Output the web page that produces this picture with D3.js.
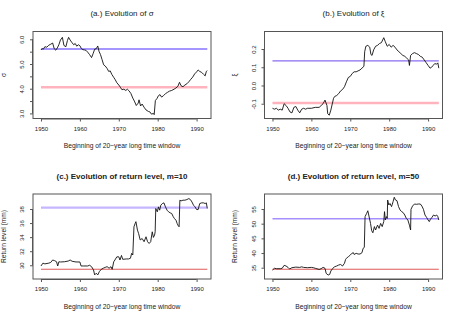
<!DOCTYPE html>
<html><head><meta charset="utf-8">
<script src="https://cdn.jsdelivr.net/npm/d3@7"></script>
<style>body{margin:0;background:#fff}svg{display:block;font-family:"Liberation Sans",Arial,sans-serif}</style>
</head><body><svg id="c" width="463" height="321"></svg>
<script>
const xTicks = [1950,1960,1970,1980,1990];
const sigmaTicks = [3.0,3.5,4.0,4.5,5.0,5.5,6.0];
const sigmaTickLabels = ["3.0","","4.0","","5.0","","6.0"];
const xiTicks = [-0.1,0.0,0.1,0.2];
const xiTickLabels = ["-0.1","0.0","0.1","0.2"];
const rl10Ticks = [30,32,34,36,38];
const rl50Ticks = [35,40,45,50,55];

const sigmaSeries = [[1950.0,5.57],[1950.3,5.62],[1950.6,5.60],[1951.0,5.70],[1951.5,5.68],[1952.0,5.76],[1952.5,5.80],[1953.0,5.85],[1953.4,5.62],[1953.8,5.56],[1954.2,5.65],[1954.6,5.78],[1955.0,5.97],[1955.5,6.08],[1955.9,5.75],[1956.4,5.70],[1956.8,5.95],[1957.1,6.08],[1957.5,5.97],[1958.0,5.86],[1958.4,5.78],[1958.8,5.83],[1959.2,5.72],[1959.6,5.78],[1960.0,5.74],[1960.4,5.62],[1960.8,5.58],[1961.2,5.57],[1961.6,5.55],[1962.0,5.48],[1962.5,5.38],[1963.0,5.26],[1963.4,5.42],[1963.8,5.60],[1964.2,5.62],[1964.6,5.73],[1964.9,5.52],[1965.3,5.38],[1965.7,5.18],[1966.1,4.97],[1966.5,4.92],[1967.0,4.82],[1967.4,4.70],[1967.8,4.72],[1968.2,4.58],[1968.7,4.46],[1969.1,4.36],[1969.5,4.24],[1970.0,4.15],[1970.4,4.06],[1970.8,3.96],[1971.3,3.98],[1971.8,3.93],[1972.2,3.98],[1972.6,3.92],[1973.1,3.81],[1973.6,3.62],[1974.0,3.50],[1974.5,3.32],[1975.0,3.42],[1975.2,3.55],[1975.6,3.30],[1976.0,3.38],[1976.5,3.25],[1977.0,3.14],[1977.6,3.08],[1978.0,3.06],[1978.4,2.97],[1978.9,3.00],[1979.1,2.95],[1979.4,3.52],[1979.8,3.60],[1980.2,3.72],[1980.6,3.76],[1981.0,3.66],[1981.5,3.72],[1982.0,3.80],[1982.5,3.85],[1983.0,3.90],[1983.6,3.93],[1984.2,3.98],[1984.7,4.03],[1985.2,4.10],[1985.6,4.26],[1986.0,4.12],[1986.5,4.08],[1987.0,4.15],[1987.5,4.20],[1988.0,4.28],[1988.5,4.38],[1989.0,4.47],[1989.5,4.60],[1990.0,4.68],[1990.4,4.76],[1990.8,4.70],[1991.3,4.66],[1991.8,4.58],[1992.2,4.52],[1992.5,4.70],[1992.75,4.73]];

const xiSeries = [[1950.0,-0.125],[1950.5,-0.13],[1951.0,-0.125],[1951.5,-0.135],[1952.0,-0.13],[1952.5,-0.135],[1953.0,-0.10],[1953.5,-0.11],[1954.0,-0.125],[1954.5,-0.145],[1955.0,-0.15],[1955.5,-0.12],[1956.0,-0.115],[1956.5,-0.135],[1957.0,-0.15],[1957.5,-0.13],[1958.0,-0.125],[1958.5,-0.13],[1959.0,-0.125],[1960.0,-0.125],[1961.0,-0.12],[1962.0,-0.12],[1962.5,-0.11],[1963.0,-0.10],[1963.5,-0.08],[1964.0,-0.11],[1964.2,-0.155],[1964.6,-0.163],[1965.0,-0.135],[1965.3,-0.107],[1965.7,-0.07],[1966.0,-0.06],[1966.5,-0.055],[1967.0,-0.045],[1967.5,-0.03],[1968.0,-0.022],[1968.5,-0.007],[1969.0,0.02],[1969.5,0.044],[1970.0,0.05],[1970.5,0.066],[1971.0,0.075],[1971.5,0.075],[1972.0,0.08],[1972.5,0.085],[1973.0,0.095],[1973.5,0.105],[1973.7,0.185],[1974.0,0.215],[1974.5,0.22],[1975.0,0.21],[1975.3,0.17],[1975.6,0.165],[1976.0,0.195],[1976.5,0.215],[1977.0,0.22],[1977.5,0.23],[1978.0,0.235],[1978.6,0.262],[1979.0,0.24],[1979.5,0.215],[1980.0,0.225],[1980.5,0.21],[1981.0,0.22],[1981.5,0.21],[1982.0,0.195],[1982.5,0.185],[1983.0,0.175],[1983.5,0.165],[1984.0,0.16],[1984.5,0.15],[1985.0,0.14],[1985.2,0.11],[1985.5,0.165],[1986.0,0.175],[1986.5,0.18],[1987.0,0.175],[1987.5,0.17],[1988.0,0.16],[1988.5,0.155],[1989.0,0.14],[1989.5,0.125],[1990.0,0.11],[1990.5,0.095],[1990.9,0.10],[1991.3,0.11],[1991.7,0.12],[1992.2,0.117],[1992.5,0.124],[1992.75,0.095]];

const rl10Series = [[1950.0,29.9],[1950.5,30.3],[1951.0,30.2],[1952.0,30.3],[1952.5,30.4],[1953.0,30.75],[1953.5,30.66],[1954.0,30.5],[1954.3,29.9],[1954.6,30.5],[1955.0,30.47],[1956.0,30.5],[1957.0,30.6],[1957.5,30.75],[1958.0,30.57],[1959.0,30.47],[1960.0,30.47],[1960.3,29.9],[1961.0,29.9],[1962.0,29.9],[1962.5,30.0],[1963.0,29.8],[1963.5,29.34],[1963.8,28.63],[1964.2,28.87],[1964.6,28.63],[1965.0,29.1],[1965.5,29.43],[1966.0,29.58],[1966.5,29.7],[1967.0,29.8],[1967.5,29.58],[1968.0,29.8],[1968.3,29.43],[1968.7,30.5],[1969.0,30.75],[1969.5,31.2],[1970.0,31.2],[1970.3,30.75],[1970.7,31.4],[1971.0,30.85],[1972.0,30.9],[1972.5,30.9],[1973.0,31.0],[1973.3,31.7],[1973.6,31.46],[1973.9,35.47],[1974.2,35.94],[1974.4,36.2],[1974.8,35.0],[1975.1,34.5],[1975.5,33.6],[1976.0,33.8],[1976.5,33.35],[1977.0,34.05],[1977.4,33.35],[1977.8,33.1],[1978.2,33.35],[1978.6,34.76],[1978.9,33.96],[1979.2,34.3],[1979.35,34.76],[1979.5,38.07],[1979.9,37.6],[1980.2,38.3],[1980.5,37.83],[1980.8,38.54],[1981.2,38.77],[1981.6,38.87],[1982.0,38.3],[1982.4,37.83],[1982.8,37.6],[1983.2,37.45],[1983.6,37.36],[1984.0,36.9],[1984.3,36.65],[1984.7,36.4],[1985.0,35.94],[1985.3,35.6],[1985.5,35.47],[1985.7,39.25],[1986.0,39.15],[1986.5,39.25],[1987.0,39.25],[1987.5,39.34],[1988.0,39.48],[1988.4,39.34],[1988.8,39.0],[1989.2,38.54],[1989.6,38.3],[1990.0,37.92],[1990.4,37.92],[1990.8,38.77],[1991.3,38.87],[1991.8,38.87],[1992.2,38.77],[1992.5,38.87],[1992.75,38.07]];

const rl50Series = [[1950.0,34.2],[1950.5,34.8],[1951.0,34.66],[1952.0,34.66],[1952.5,34.8],[1953.0,35.8],[1953.5,35.57],[1954.0,35.1],[1954.4,34.55],[1955.0,35.0],[1956.0,35.2],[1957.0,35.1],[1957.5,35.3],[1958.0,35.1],[1959.0,35.0],[1960.0,35.1],[1960.5,35.0],[1961.0,34.8],[1962.0,34.4],[1962.5,34.66],[1963.0,35.1],[1963.5,34.8],[1963.8,33.07],[1964.3,32.5],[1964.7,32.7],[1965.0,33.86],[1965.5,34.8],[1966.0,35.34],[1966.5,35.57],[1967.0,35.9],[1967.5,36.1],[1968.0,35.57],[1968.5,36.5],[1968.8,37.84],[1969.0,38.2],[1969.5,38.75],[1970.0,39.3],[1970.4,39.9],[1970.8,40.1],[1971.0,39.5],[1971.5,39.9],[1972.0,39.66],[1972.5,39.66],[1973.0,40.1],[1973.3,41.6],[1973.6,41.9],[1973.8,52.4],[1974.2,53.5],[1974.5,54.4],[1974.8,52.6],[1975.2,50.1],[1975.5,47.6],[1975.8,46.9],[1976.2,49.0],[1976.5,47.84],[1977.0,49.5],[1977.4,48.4],[1977.8,50.1],[1978.2,49.0],[1978.6,50.7],[1978.8,54.1],[1979.0,51.25],[1979.3,52.4],[1979.5,51.8],[1979.6,58.07],[1979.9,56.36],[1980.2,56.9],[1980.6,55.8],[1981.0,57.5],[1981.3,59.0],[1981.6,58.07],[1982.0,57.84],[1982.4,55.8],[1982.8,54.66],[1983.2,54.1],[1983.6,53.75],[1984.0,52.95],[1984.4,51.8],[1984.8,51.25],[1985.2,49.5],[1985.5,47.84],[1985.6,54.9],[1986.0,56.0],[1986.5,56.7],[1987.0,56.6],[1987.5,56.7],[1988.0,56.7],[1988.4,56.0],[1988.8,54.9],[1989.2,52.95],[1989.6,52.16],[1990.0,51.25],[1990.3,50.7],[1990.6,51.5],[1991.0,52.16],[1991.4,52.95],[1991.8,52.6],[1992.2,52.95],[1992.5,52.4],[1992.75,51.25]];

const sigmaRefs = [5.61, 4.06];
const xiRefs = [0.135, -0.096];
const rl10Refs = [38.2, 29.43];
const rl50Refs = [51.7, 34.45];

const xLabel = "Beginning of 20\u2212year long time window";

const panels = [
  {title:"(a.) Evolution of \u03c3", bold:false, ylab:"\u03c3", data:sigmaSeries, refs:sigmaRefs,
   yTicks:sigmaTicks, yLabels:sigmaTickLabels, yDom:[2.794,6.316], L:33, R:211, T:31.5, B:118.5,
   refStyle:[{c:"#a596ff",w:2},{c:"#ffb3bd",w:2.4}]},
  {title:"(b.) Evolution of \u03be", bold:false, ylab:"\u03be", data:xiSeries, refs:xiRefs,
   yTicks:xiTicks, yLabels:xiTickLabels, yDom:[-0.181,0.296], L:264.5, R:442.5, T:31.5, B:118.5,
   refStyle:[{c:"#8a6cf0",w:1.2},{c:"#ffb3bd",w:2.4}]},
  {title:"(c.) Evolution of return level, m=10", bold:true, ylab:"Return level (mm)", data:rl10Series, refs:rl10Refs,
   yTicks:rl10Ticks, yLabels:rl10Ticks.map(String), yDom:[28.05,40.13], L:33, R:211, T:194, B:279,
   refStyle:[{c:"#c6b6ff",w:2.4},{c:"#e05a5a",w:1.1}]},
  {title:"(d.) Evolution of return level, m=50", bold:true, ylab:"Return level (mm)", data:rl50Series, refs:rl50Refs,
   yTicks:rl50Ticks, yLabels:rl50Ticks.map(String), yDom:[31.15,60.11], L:264.5, R:442.5, T:194, B:279,
   refStyle:[{c:"#a58eff",w:1.6},{c:"#e05a5a",w:1.1}]}
];

const svg = d3.select("#c");
const ink = "#222";
panels.forEach(p => {
  const x = d3.scaleLinear().domain([1947.95,1993.7]).range([p.L,p.R]);
  const y = d3.scaleLinear().domain(p.yDom).range([p.B,p.T]);
  const g = svg.append("g");
  const x0 = p.data[0][0], x1 = p.data[p.data.length-1][0];
  p.refs.forEach((v,i) => {
    g.append("line").attr("x1",x(x0)).attr("x2",x(x1)).attr("y1",y(v)).attr("y2",y(v))
      .attr("stroke",p.refStyle[i].c).attr("stroke-width",p.refStyle[i].w);
  });
  g.append("path").datum(p.data)
    .attr("d", d3.line().x(d=>x(d[0])).y(d=>y(d[1])))
    .attr("fill","none").attr("stroke","#111").attr("stroke-width",0.9).attr("stroke-linejoin","round");
  g.append("rect").attr("x",p.L).attr("y",p.T).attr("width",p.R-p.L).attr("height",p.B-p.T)
    .attr("fill","none").attr("stroke","#555").attr("stroke-width",1);
  const xa = g.append("g").attr("transform",`translate(0,${p.B})`)
    .call(d3.axisBottom(x).tickValues(xTicks).tickSize(3).tickPadding(5).tickFormat(d3.format("d")));
  xa.select(".domain").attr("stroke","#555").attr("d",`M${x(1950)},0.5H${x(1990)}`);
  xa.selectAll(".tick line").attr("stroke","#555");
  xa.selectAll("text").attr("font-size",6).attr("fill",ink).attr("font-family","Liberation Sans, Arial, sans-serif");
  const ya = g.append("g").attr("transform",`translate(${p.L},0)`)
    .call(d3.axisLeft(y).tickValues(p.yTicks).tickSize(3).tickFormat((d,i)=>p.yLabels[i]));
  ya.select(".domain").attr("stroke","#555").attr("d",`M-0.5,${y(p.yTicks[0])}V${y(p.yTicks[p.yTicks.length-1])}`);
  ya.selectAll(".tick line").attr("stroke","#555");
  ya.selectAll(".tick text").attr("x",null).attr("dy",null).attr("font-size",6).attr("fill",ink)
    .attr("font-family","Liberation Sans, Arial, sans-serif")
    .attr("text-anchor","middle").attr("transform","translate(-9,0) rotate(-90)");
  const cx = (p.L+p.R)/2;
  svg.append("text").attr("x",cx).attr("y",p.T-15.5).attr("text-anchor","middle")
    .attr("font-size",8).attr("font-weight",p.bold?"bold":"normal").attr("fill",ink).text(p.title);
  svg.append("text").attr("x",cx).attr("y",p.B+29.5).attr("text-anchor","middle")
    .attr("font-size",6.7).attr("fill",ink).text(xLabel);
  svg.append("text").attr("transform",`translate(${p.L-27.5},${(p.T+p.B)/2}) rotate(-90)`)
    .attr("text-anchor","middle").attr("font-size",6.7).attr("fill",ink).text(p.ylab);
});
</script></body></html>
